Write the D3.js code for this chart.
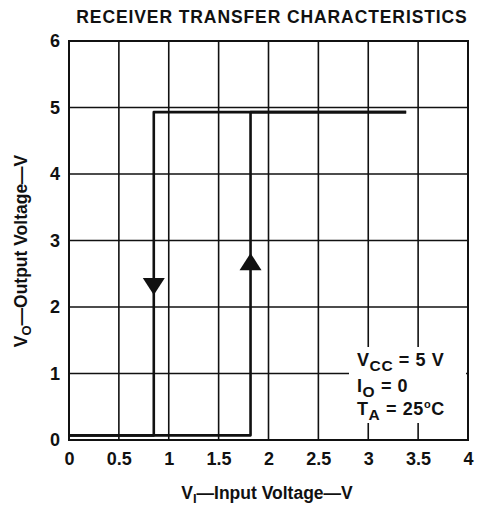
<!DOCTYPE html>
<html><head><meta charset="utf-8">
<script src="https://cdn.jsdelivr.net/npm/d3@7"></script>
<style>
html,body{margin:0;padding:0;background:#fff;}
svg text{font-family:"Liberation Sans",Arial,Helvetica,sans-serif;font-weight:bold;fill:#111;}
</style></head>
<body><svg id="c" width="484" height="508"></svg>
<script>
// ---- data ----
const xTicks = [0, 0.5, 1, 1.5, 2, 2.5, 3, 3.5, 4];
const xTickLabels = ["0", "0.5", "1", "1.5", "2", "2.5", "3", "3.5", "4"];
const yTicks = [0, 1, 2, 3, 4, 5, 6];
const yTickLabels = ["0", "1", "2", "3", "4", "5", "6"];
// rising path (low -> high), input voltage VI, output voltage VO
const risingVI = [0, 1.82, 1.82, 3.38];
const risingVO = [0.07, 0.07, 4.93, 4.93];
// falling path (high -> low)
const fallingVI = [3.38, 0.85, 0.85, 0];
const fallingVO = [4.93, 4.93, 0.07, 0.07];
// direction arrows: [VI, VO tip, direction]
const arrowVI = [0.85, 1.82];
const arrowVO = [2.18, 2.81];
const arrowDir = ["down", "up"];
const title = "RECEIVER TRANSFER CHARACTERISTICS";

// ---- layout ----
const svg = d3.select("#c");
const x = d3.scaleLinear().domain([0, 4]).range([69, 468]);
const y = d3.scaleLinear().domain([0, 6]).range([440, 41]);

// title
svg.append("text").attr("x", 272).attr("y", 23).attr("text-anchor", "middle")
  .style("font-size", "17.5px").style("letter-spacing", "0.9px").text(title);

// grid
const g = svg.append("g");
g.selectAll(".vx").data(xTicks.slice(1, -1)).enter().append("line")
  .attr("x1", d => x(d)).attr("x2", d => x(d)).attr("y1", y(6)).attr("y2", y(0))
  .attr("stroke", "#111").attr("stroke-width", 1.6);
g.selectAll(".hy").data(yTicks.slice(1, -1)).enter().append("line")
  .attr("x1", x(0)).attr("x2", x(4)).attr("y1", d => y(d)).attr("y2", d => y(d))
  .attr("stroke", "#111").attr("stroke-width", 1.6);
// frame
g.append("rect").attr("x", x(0)).attr("y", y(6)).attr("width", x(4) - x(0)).attr("height", y(0) - y(6))
  .attr("fill", "none").attr("stroke", "#111").attr("stroke-width", 2);

// axes tick labels via d3 axes
const xAxis = d3.axisBottom(x).tickValues(xTicks).tickFormat((d, i) => xTickLabels[i]).tickSize(0).tickPadding(12);
const xa = svg.append("g").attr("transform", `translate(0,${y(0)})`).call(xAxis);
xa.select(".domain").remove();
xa.selectAll("text").style("font-size", "18px").attr("fill", "#111").attr("font-family", null);

const yAxis = d3.axisLeft(y).tickValues(yTicks).tickFormat((d, i) => yTickLabels[i]).tickSize(0).tickPadding(9);
const ya = svg.append("g").attr("transform", `translate(${x(0)},0)`).call(yAxis);
ya.select(".domain").remove();
ya.selectAll("text").style("font-size", "18px").attr("fill", "#111").attr("font-family", null);

// curves
const line = d3.line().x(d => x(d[0])).y(d => y(d[1])).curve(d3.curveLinear);
const rising = risingVI.map((v, i) => [v, risingVO[i]]);
const falling = fallingVI.map((v, i) => [v, fallingVO[i]]);
[rising, falling].forEach(p => {
  svg.append("path").attr("d", line(p)).attr("fill", "none").attr("stroke", "#111")
    .attr("stroke-width", 2.6).attr("stroke-linejoin", "round");
});

// arrows
arrowVI.forEach((v, i) => {
  const tx = x(v), ty = y(arrowVO[i]);
  const h = 17, w = 11;
  const pts = arrowDir[i] === "down"
    ? [[tx, ty], [tx - w, ty - h], [tx + w, ty - h]]
    : [[tx, ty], [tx - w, ty + h], [tx + w, ty + h]];
  svg.append("path").attr("d", d3.line()(pts) + "Z").attr("fill", "#111");
});

// annotation box
svg.append("rect").attr("x", 349).attr("y", 347).attr("width", 117).attr("height", 76).attr("fill", "#fff");
const fs = "18px", ss = "15.5px";
let t1 = svg.append("text").attr("x", 357).attr("y", 366).style("font-size", fs).style("letter-spacing", "0.6px");
t1.append("tspan").text("V");
t1.append("tspan").attr("dy", 5).style("font-size", ss).text("CC");
t1.append("tspan").attr("dy", -5).text(" = 5 V");
let t2 = svg.append("text").attr("x", 357).attr("y", 392).style("font-size", fs).style("letter-spacing", "0.6px");
t2.append("tspan").text("I");
t2.append("tspan").attr("dy", 5).style("font-size", ss).text("O");
t2.append("tspan").attr("dy", -5).text(" = 0");
let t3 = svg.append("text").attr("x", 357).attr("y", 415).style("font-size", fs).style("letter-spacing", "0.6px");
t3.append("tspan").text("T");
t3.append("tspan").attr("dy", 5).style("font-size", ss).text("A");
t3.append("tspan").attr("dy", -5).text(" = 25");
t3.append("tspan").attr("dy", -7).style("font-size", "11px").text("o");
t3.append("tspan").attr("dy", 7).text("C");

// axis titles
let xt = svg.append("text").attr("x", 267).attr("y", 499).attr("text-anchor", "middle").style("font-size", "17.5px");
xt.append("tspan").text("V");
xt.append("tspan").attr("dy", 4).style("font-size", "13px").text("I");
xt.append("tspan").attr("dy", -4).text("\u2014Input Voltage\u2014V");

let yt = svg.append("text").attr("transform", "translate(27,251) rotate(-90)").attr("text-anchor", "middle").style("font-size", "17.5px");
yt.append("tspan").text("V");
yt.append("tspan").attr("dy", 4).style("font-size", "13px").text("O");
yt.append("tspan").attr("dy", -4).text("\u2014Output Voltage\u2014V");
</script></body></html>
